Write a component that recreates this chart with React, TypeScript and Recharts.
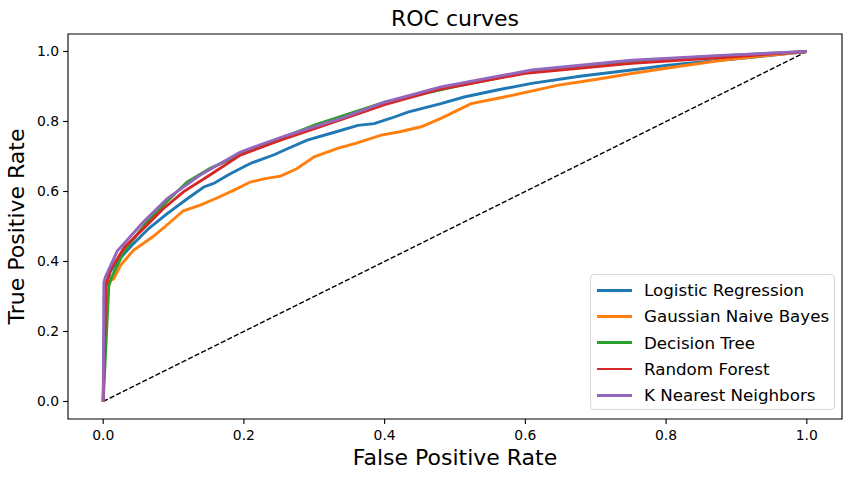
import React from "react";
import { Line, LineChart, ReferenceArea, XAxis, YAxis } from "recharts";

const ticks = [0, 0.2, 0.4, 0.6, 0.8, 1.0];

const logisticRegression = [
  [0, 0], [0.003, 0.33], [0.01, 0.37], [0.02, 0.4], [0.043, 0.451], [0.065, 0.495],
  [0.091, 0.537], [0.12, 0.58], [0.143, 0.613], [0.157, 0.623], [0.18, 0.65], [0.209, 0.68],
  [0.243, 0.705], [0.265, 0.725], [0.29, 0.747], [0.33, 0.77], [0.362, 0.789], [0.385, 0.794],
  [0.41, 0.81], [0.433, 0.827], [0.48, 0.851], [0.513, 0.87], [0.56, 0.89], [0.609, 0.909],
  [0.68, 0.93], [0.751, 0.947], [0.8, 0.96], [0.865, 0.973], [0.93, 0.985], [1, 1]
];

const gaussianNaiveBayes = [
  [0, 0], [0.003, 0.33], [0.01, 0.345], [0.015, 0.351], [0.025, 0.39], [0.043, 0.432],
  [0.07, 0.47], [0.091, 0.505], [0.114, 0.545], [0.138, 0.561], [0.16, 0.58], [0.186, 0.604],
  [0.209, 0.627], [0.23, 0.637], [0.252, 0.644], [0.275, 0.665], [0.3, 0.699], [0.333, 0.723],
  [0.36, 0.738], [0.395, 0.761], [0.42, 0.77], [0.452, 0.785], [0.48, 0.809], [0.523, 0.851],
  [0.57, 0.87], [0.647, 0.904], [0.7, 0.92], [0.751, 0.937], [0.8, 0.952], [0.879, 0.975],
  [0.94, 0.988], [1, 1]
];

const decisionTree = [
  [0, 0], [0.008, 0.33], [0.012, 0.355], [0.03, 0.43], [0.062, 0.513], [0.09, 0.57],
  [0.119, 0.627], [0.152, 0.666], [0.2, 0.71], [0.3, 0.79], [0.4, 0.855], [0.5, 0.9],
  [0.6, 0.94], [0.75, 0.972], [0.88, 0.988], [1, 1]
];

const randomForest = [
  [0, 0], [0.004, 0.33], [0.01, 0.375], [0.03, 0.44], [0.057, 0.494], [0.085, 0.55],
  [0.114, 0.599], [0.15, 0.645], [0.195, 0.704], [0.25, 0.745], [0.338, 0.805], [0.4, 0.848],
  [0.48, 0.893], [0.6, 0.938], [0.751, 0.966], [0.879, 0.983], [1, 1]
];

const kNearestNeighbors = [
  [0, 0], [0.001, 0.34], [0.003, 0.355], [0.02, 0.43], [0.057, 0.513], [0.091, 0.58],
  [0.138, 0.647], [0.195, 0.713], [0.26, 0.76], [0.338, 0.809], [0.4, 0.855], [0.48, 0.899],
  [0.609, 0.947], [0.751, 0.975], [0.879, 0.989], [1, 1]
];

const chance = [[0, 0], [1, 1]];

const series = [
  { name: "Logistic Regression", color: "#1f77b4", points: logisticRegression },
  { name: "Gaussian Naive Bayes", color: "#ff7f0e", points: gaussianNaiveBayes },
  { name: "Decision Tree", color: "#2ca02c", points: decisionTree },
  { name: "Random Forest", color: "#d62728", points: randomForest },
  { name: "K Nearest Neighbors", color: "#9467bd", points: kNearestNeighbors }
];

const font = "'DejaVu Sans', sans-serif";

function toRows(points: number[][]) {
  return points.map(([fpr, tpr]) => ({ fpr, tpr }));
}

// matplotlib-style legend box, lower right
function RocLegend() {
  return (
    <div
      style={{
        position: "absolute",
        left: 590,
        top: 274,
        boxSizing: "border-box",
        width: 245,
        height: 136,
        border: "1px solid #d6d6d6",
        borderRadius: 4,
        background: "rgba(255,255,255,0.8)",
        padding: "2px 0 0 6px",
        fontFamily: font,
        fontSize: 16.7
      }}
    >
      {series.map((s) => (
        <div key={s.name} style={{ display: "flex", alignItems: "center", height: 26.3 }}>
          <div style={{ width: 35, height: 2.8, background: s.color, marginRight: 12 }} />
          <span style={{ color: "#000", lineHeight: "20px" }}>{s.name}</span>
        </div>
      ))}
    </div>
  );
}

export default function App() {
  return (
    <div style={{ position: "fixed", left: 0, top: 0, width: 852, height: 478, background: "#fff" }}>
      <div
        style={{
          position: "absolute",
          left: 0,
          top: 8,
          width: 910,
          textAlign: "center",
          fontFamily: font,
          fontSize: 22,
          lineHeight: "22px",
          color: "#000"
        }}
      >
        ROC curves
      </div>
      <LineChart width={852} height={478} margin={{ top: 34, right: 10, bottom: 0, left: 0 }}>
        <XAxis
          type="number"
          dataKey="fpr"
          domain={[-0.05, 1.05]}
          ticks={ticks}
          allowDataOverflow
          height={59}
          axisLine={false}
          tickLine={{ stroke: "#000", strokeWidth: 1.1 }}
          tickSize={4.9}
          tickMargin={6}
          tick={{ fill: "#000", fontSize: 13.9, fontFamily: font }}
          tickFormatter={(v: number) => v.toFixed(1)}
          label={{ value: "False Positive Rate", position: "insideBottom", offset: 13, fontSize: 22, fontFamily: font, fill: "#000" }}
        />
        <YAxis
          type="number"
          domain={[-0.05, 1.05]}
          ticks={ticks}
          allowDataOverflow
          width={68}
          axisLine={false}
          tickLine={{ stroke: "#000", strokeWidth: 1.1 }}
          tickSize={4.9}
          tickMargin={4}
          tick={{ fill: "#000", fontSize: 13.9, fontFamily: font }}
          tickFormatter={(v: number) => v.toFixed(1)}
          label={{ value: "True Positive Rate", angle: -90, position: "insideLeft", offset: 16, fontSize: 22, fontFamily: font, fill: "#000", style: { textAnchor: "middle" } }}
        />
        <ReferenceArea x1={-0.05} x2={1.05} y1={-0.05} y2={1.05} fill="none" stroke="#000" strokeWidth={1.1} ifOverflow="visible" />
        <Line
          data={toRows(chance)}
          dataKey="tpr"
          type="linear"
          stroke="#000"
          strokeWidth={1.4}
          strokeDasharray="5.1 2.2"
          dot={false}
          activeDot={false}
          isAnimationActive={false}
        />
        {series.map((s) => (
          <Line
            key={s.name}
            name={s.name}
            data={toRows(s.points)}
            dataKey="tpr"
            type="linear"
            stroke={s.color}
            strokeWidth={2.9}
            dot={false}
            activeDot={false}
            isAnimationActive={false}
          />
        ))}
      </LineChart>
      <RocLegend />
    </div>
  );
}
